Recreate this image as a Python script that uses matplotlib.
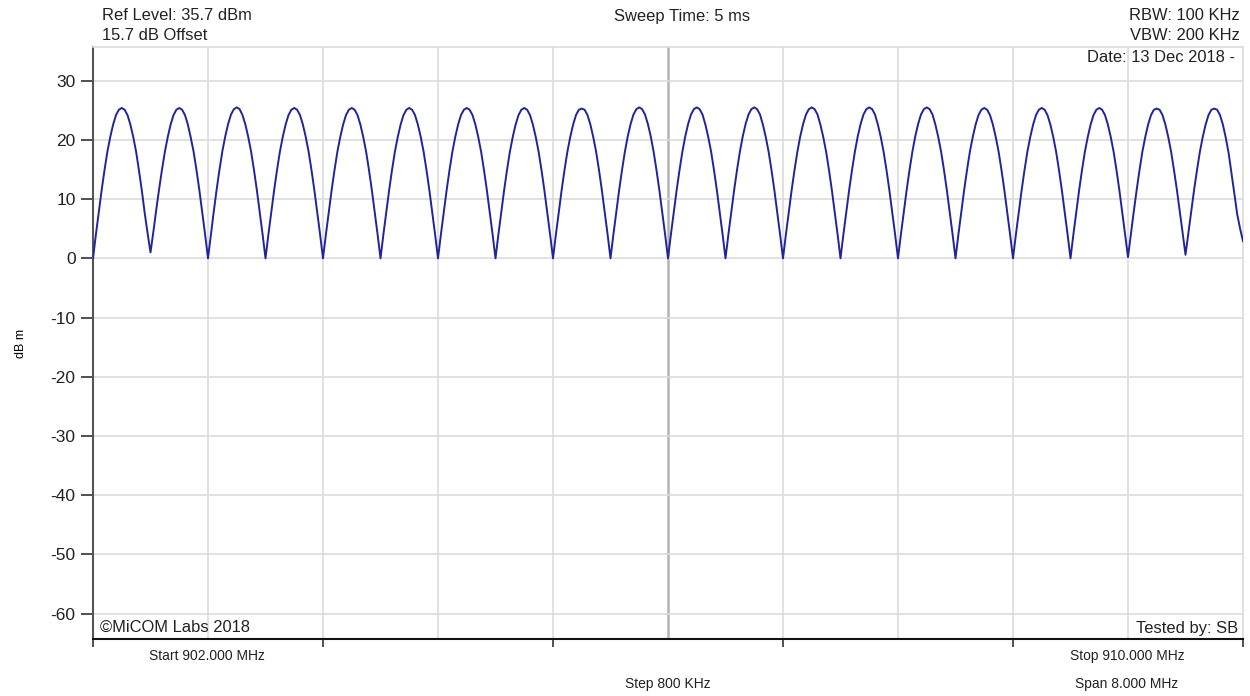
import numpy as np
import matplotlib
matplotlib.use("Agg")
from matplotlib import pyplot as plt

plt.rcParams['font.family'] = ['Liberation Sans', 'DejaVu Sans']

start_mhz = 902.0
stop_mhz = 910.0
step_mhz = 0.02
level_rows = [
    [0.0, 4.0, 7.8, 11.5, 14.9, 18.0, 20.5, 22.6, 24.2, 25.1, 25.4, 25.1, 24.2, 22.6, 20.5, 18.0, 14.8, 11.4, 7.6, 4.2],
    [1.0, 4.5, 8.2, 11.7, 15.0, 18.0, 20.5, 22.6, 24.2, 25.1, 25.4, 25.1, 24.2, 22.6, 20.4, 18.0, 14.9, 11.5, 7.8, 4.0],
    [0.0, 4.0, 7.9, 11.6, 15.0, 18.1, 20.6, 22.7, 24.3, 25.2, 25.5, 25.2, 24.2, 22.6, 20.5, 18.0, 14.9, 11.5, 7.8, 4.0],
    [0.0, 4.0, 7.8, 11.5, 14.9, 18.0, 20.5, 22.6, 24.2, 25.1, 25.4, 25.1, 24.2, 22.6, 20.5, 18.0, 14.9, 11.5, 7.8, 4.0],
    [0.0, 4.0, 7.8, 11.5, 14.9, 18.0, 20.5, 22.6, 24.2, 25.1, 25.4, 25.1, 24.2, 22.6, 20.5, 18.0, 14.9, 11.5, 7.8, 4.0],
    [0.0, 4.0, 7.8, 11.5, 14.9, 18.0, 20.5, 22.6, 24.2, 25.1, 25.4, 25.1, 24.2, 22.6, 20.5, 18.0, 14.9, 11.5, 7.8, 4.0],
    [0.0, 4.0, 7.8, 11.5, 14.9, 18.0, 20.5, 22.6, 24.2, 25.1, 25.4, 25.1, 24.2, 22.6, 20.5, 18.0, 14.9, 11.5, 7.8, 4.0],
    [0.0, 4.0, 7.8, 11.5, 14.9, 18.0, 20.5, 22.6, 24.2, 25.1, 25.4, 25.1, 24.2, 22.6, 20.5, 18.0, 14.9, 11.5, 7.8, 4.0],
    [0.0, 4.0, 7.8, 11.5, 14.9, 18.0, 20.5, 22.6, 24.2, 25.1, 25.3, 25.1, 24.2, 22.6, 20.5, 18.0, 14.9, 11.5, 7.8, 4.0],
    [0.0, 4.0, 7.8, 11.5, 14.9, 18.0, 20.6, 22.7, 24.3, 25.2, 25.5, 25.2, 24.3, 22.7, 20.6, 18.0, 14.9, 11.5, 7.8, 4.0],
    [0.0, 4.0, 7.8, 11.5, 14.9, 18.0, 20.6, 22.7, 24.3, 25.2, 25.5, 25.2, 24.3, 22.6, 20.5, 18.0, 14.9, 11.5, 7.8, 4.0],
    [0.0, 4.0, 7.8, 11.5, 14.9, 18.0, 20.6, 22.7, 24.3, 25.2, 25.5, 25.2, 24.3, 22.6, 20.5, 18.0, 14.9, 11.5, 7.8, 4.0],
    [0.0, 4.0, 7.8, 11.5, 14.9, 18.0, 20.6, 22.7, 24.3, 25.2, 25.5, 25.2, 24.3, 22.6, 20.5, 18.0, 14.9, 11.5, 7.8, 4.0],
    [0.0, 4.0, 7.8, 11.5, 14.9, 18.0, 20.6, 22.7, 24.3, 25.2, 25.5, 25.2, 24.3, 22.6, 20.5, 18.0, 14.9, 11.5, 7.8, 4.0],
    [0.0, 4.0, 7.8, 11.5, 14.9, 18.0, 20.6, 22.7, 24.3, 25.2, 25.5, 25.2, 24.3, 22.6, 20.5, 18.0, 14.9, 11.5, 7.8, 4.0],
    [0.0, 4.0, 7.8, 11.5, 14.9, 18.0, 20.5, 22.6, 24.2, 25.1, 25.4, 25.1, 24.2, 22.6, 20.5, 18.0, 14.9, 11.5, 7.8, 4.0],
    [0.0, 4.0, 7.8, 11.5, 14.9, 18.0, 20.5, 22.6, 24.2, 25.1, 25.4, 25.1, 24.2, 22.6, 20.5, 18.0, 14.9, 11.5, 7.8, 4.0],
    [0.0, 4.0, 7.8, 11.5, 14.9, 18.0, 20.5, 22.6, 24.2, 25.1, 25.4, 25.1, 24.2, 22.6, 20.5, 18.0, 14.9, 11.5, 7.8, 4.0],
    [0.2, 4.1, 7.9, 11.5, 14.9, 18.0, 20.5, 22.6, 24.2, 25.1, 25.3, 25.1, 24.2, 22.6, 20.5, 18.0, 14.9, 11.6, 8.0, 4.3],
    [0.6, 4.3, 8.0, 11.6, 14.9, 18.0, 20.5, 22.6, 24.2, 25.1, 25.3, 25.1, 24.2, 22.6, 20.4, 17.8, 14.4, 10.9, 7.4, 5.0],
]
level_end = 2.9

y_ticks = [30, 20, 10, 0, -10, -20, -30, -40, -50, -60]
ref_level = 35.7
bottom_level = -64.3

level = [v for row in level_rows for v in row] + [level_end]
freq = start_mhz + step_mhz * np.arange(len(level))

fig = plt.figure(figsize=(12.5, 6.96), dpi=100)
ax = fig.add_axes([93 / 1250, 57 / 696, 1150 / 1250, 592 / 696])

# grid
for f in np.arange(start_mhz + 0.8, stop_mhz - 0.01, 0.8):
    if abs(f - 906.0) < 0.01:
        ax.axvline(f, color='#b4b4b4', lw=1.8, zorder=1)
    else:
        ax.axvline(f, color='#dcdcdc', lw=1.2, zorder=1)
for y in y_ticks:
    ax.axhline(y, color='#dcdcdc', lw=1.2, zorder=1)

ax.plot(freq, level, color='#23239a', lw=1.4, zorder=3)

ax.set_xlim(start_mhz, stop_mhz)
ax.set_ylim(bottom_level, ref_level)
ax.set_xticks(np.arange(start_mhz, stop_mhz + 0.01, 1.6))
ax.set_xticklabels([])
ax.set_yticks(y_ticks)
ax.set_yticklabels([str(v) for v in y_ticks], fontsize=12.5, color='#222222')
ax.tick_params(axis='y', direction='out', length=8.5, width=1.2, color='#333333', pad=4)
ax.tick_params(axis='x', direction='out', length=6, width=1.2, color='#333333')

for side in ['top', 'right']:
    ax.spines[side].set_color('#dcdcdc')
    ax.spines[side].set_linewidth(1.2)
ax.spines['left'].set_color('#555555')
ax.spines['left'].set_linewidth(1.5)
ax.spines['bottom'].set_color('#111111')
ax.spines['bottom'].set_linewidth(1.5)

ax.set_ylabel('dB m', fontsize=9)
ax.yaxis.set_label_coords(-66 / 1150, 0.5)

txt = dict(fontsize=11.9, color='#222222')
fig.text(102 / 1250, 1 - 15 / 696, 'Ref Level: 35.7 dBm', ha='left', va='center', **txt)
fig.text(102 / 1250, 1 - 36 / 696, '15.7 dB Offset', ha='left', va='center', **txt)
fig.text(682 / 1250, 1 - 17 / 696, 'Sweep Time: 5 ms', ha='center', va='center', **txt)
fig.text(1240 / 1250, 1 - 15 / 696, 'RBW: 100 KHz', ha='right', va='center', **txt)
fig.text(1240 / 1250, 1 - 36 / 696, 'VBW: 200 KHz', ha='right', va='center', **txt)
fig.text(1235 / 1250, 1 - 58 / 696, 'Date: 13 Dec 2018 -', ha='right', va='center', **txt)
fig.text(100 / 1250, 1 - 627 / 696, '\u00a9MiCOM Labs 2018', ha='left', va='center', **txt)
fig.text(1238 / 1250, 1 - 628 / 696, 'Tested by: SB', ha='right', va='center', **txt)

small = dict(fontsize=10, color='#222222')
fig.text(207 / 1250, 1 - 656 / 696, 'Start 902.000 MHz', ha='center', va='center', **small)
fig.text(668 / 1250, 1 - 684 / 696, 'Step 800 KHz', ha='center', va='center', **small)
fig.text(1127 / 1250, 1 - 656 / 696, 'Stop 910.000 MHz', ha='center', va='center', **small)
fig.text(1127 / 1250, 1 - 684 / 696, 'Span 8.000 MHz', ha='center', va='center', **small)

fig.savefig('out.png', dpi=100)
